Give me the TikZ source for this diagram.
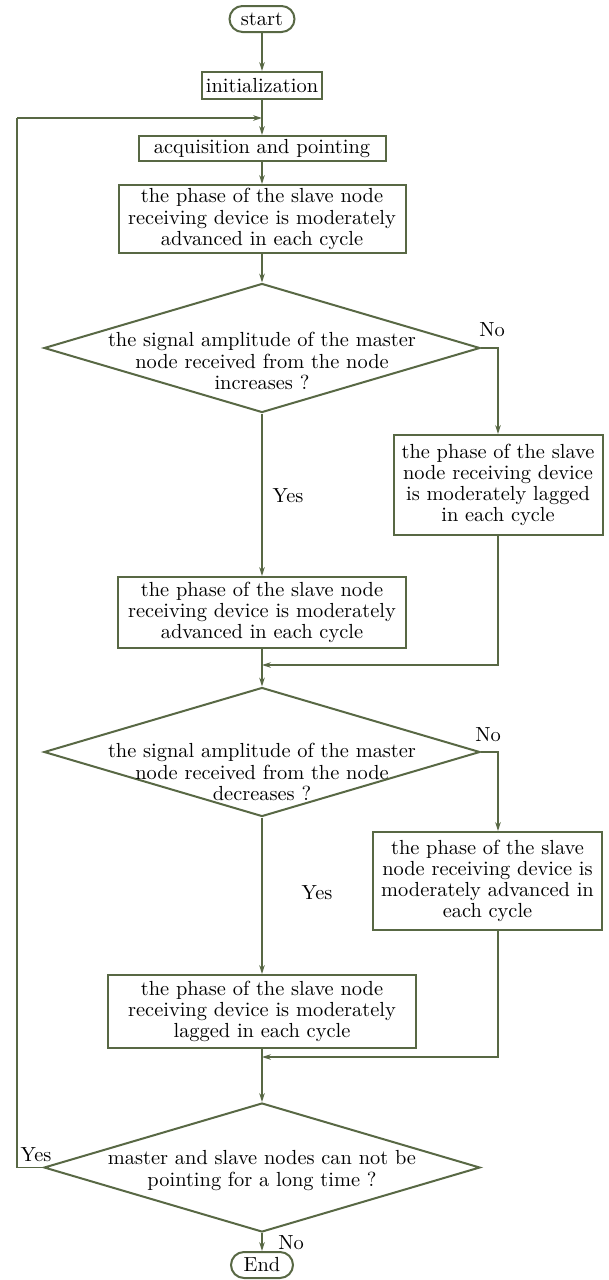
\documentclass[tikz,border=0pt]{standalone}
\usepackage{amsmath}
\usetikzlibrary{arrows.meta, positioning, calc, shapes}

\definecolor{flowgreen}{RGB}{88,104,68}

\tikzset{
    flow/.style={draw=flowgreen, line width=0.6pt, -{Stealth[length=4.5pt,width=2.8pt]}},
    plainline/.style={draw=flowgreen, line width=0.6pt},
    procbox/.style={draw=flowgreen, line width=1pt, rectangle, inner sep=0pt, align=center},
    termbox/.style={draw=flowgreen, line width=1pt, rectangle, rounded corners=6.5pt, inner sep=0pt, align=center},
    decbox/.style={draw=flowgreen, line width=1pt, diamond, inner sep=0pt, minimum width=218pt, minimum height=64.5pt},
    lbl/.style={inner sep=0pt}
}

\begin{document}
\begin{tikzpicture}[x=0.5pt, y=-0.5pt, every node/.style={font=\fontsize{10.2}{10.6}\selectfont}]
\useasboundingbox (0,0) rectangle (609,1280);

% main column
\node[termbox, minimum width=32.5pt, minimum height=13pt] (start) at (262,19) {start};
\node[procbox, minimum width=60pt, minimum height=13.5pt] (init) at (262,85.5) {initialization};
\node[procbox, minimum width=123.5pt, minimum height=12.5pt] (acq) at (262,148.5) {acquisition and pointing};
\node[procbox, minimum width=143.5pt, minimum height=34pt] (adv1) at (262,219)
    {the phase of the slave node\\receiving device is moderately\\advanced in each cycle};
\node[decbox, label={[align=center, yshift=-6.5pt]center:the signal amplitude of the master\\node received from the node\\increases ?}] (dec1) at (262,348) {};
\node[procbox, minimum width=104.5pt, minimum height=50pt] (lag1) at (498,485)
    {the phase of the slave\\node receiving device\\is moderately lagged\\in each cycle};
\node[procbox, minimum width=144pt, minimum height=35.5pt] (adv2) at (262,612.5)
    {the phase of the slave node\\receiving device is moderately\\advanced in each cycle};
\node[decbox, label={[align=center, yshift=-10pt]center:the signal amplitude of the master\\node received from the node\\decreases ?}] (dec2) at (262,752) {};
\node[procbox, minimum width=114.5pt, minimum height=49pt] (adv3) at (487.5,881)
    {the phase of the slave\\node receiving device is\\moderately advanced in\\each cycle};
\node[procbox, minimum width=154pt, minimum height=36.5pt] (lag2) at (262,1011.5)
    {the phase of the slave node\\receiving device is moderately\\lagged in each cycle};
\node[decbox, label={[align=center, yshift=-1.5pt]center:master and slave nodes can not be\\pointing for a long time ?}] (dec3) at (262,1167.5) {};
\node[termbox, minimum width=31pt, minimum height=13pt] (stop) at (262,1265) {End};

% labels
\node[lbl] (no1) at (492,330) {No};
\node[lbl] (yes1) at (288,496) {Yes};
\node[lbl] (no2) at (488,735) {No};
\node[lbl] (yes2) at (317,893) {Yes};
\node[lbl] (yes3) at (36,1155) {Yes};
\node[lbl] (no3) at (291,1243) {No};

% helper points
\coordinate (loopin) at (262,118);
\coordinate (loopx) at (17,118);
\coordinate (merge1) at (262,665);
\coordinate (merge2) at (262,1057);

% connectors
\draw[flow] (start) -- (init);
\draw[flow] (init) -- (acq);
\draw[flow] (acq) -- (adv1);
\draw[flow] (adv1) -- (dec1);
\draw[flow] (dec1.east) -| (lag1.north);
\draw[flow] (dec1.south) -- (adv2.north);
\draw[flow] (lag1.south) |- (merge1);
\draw[flow] (adv2.south) -- (dec2.north);
\draw[flow] (dec2.east) -| ([xshift=5.25pt]adv3.north);
\draw[flow] (dec2.south) -- (lag2.north);
\draw[flow] ([xshift=5.25pt]adv3.south) |- (merge2);
\draw[flow] (lag2.south) -- (dec3.north);
\draw[flow] (dec3.south) -- (stop.north);
\draw[plainline] (dec3.west) -| (loopx);
\draw[flow] (loopx) -- (loopin);
\end{tikzpicture}
\end{document}
